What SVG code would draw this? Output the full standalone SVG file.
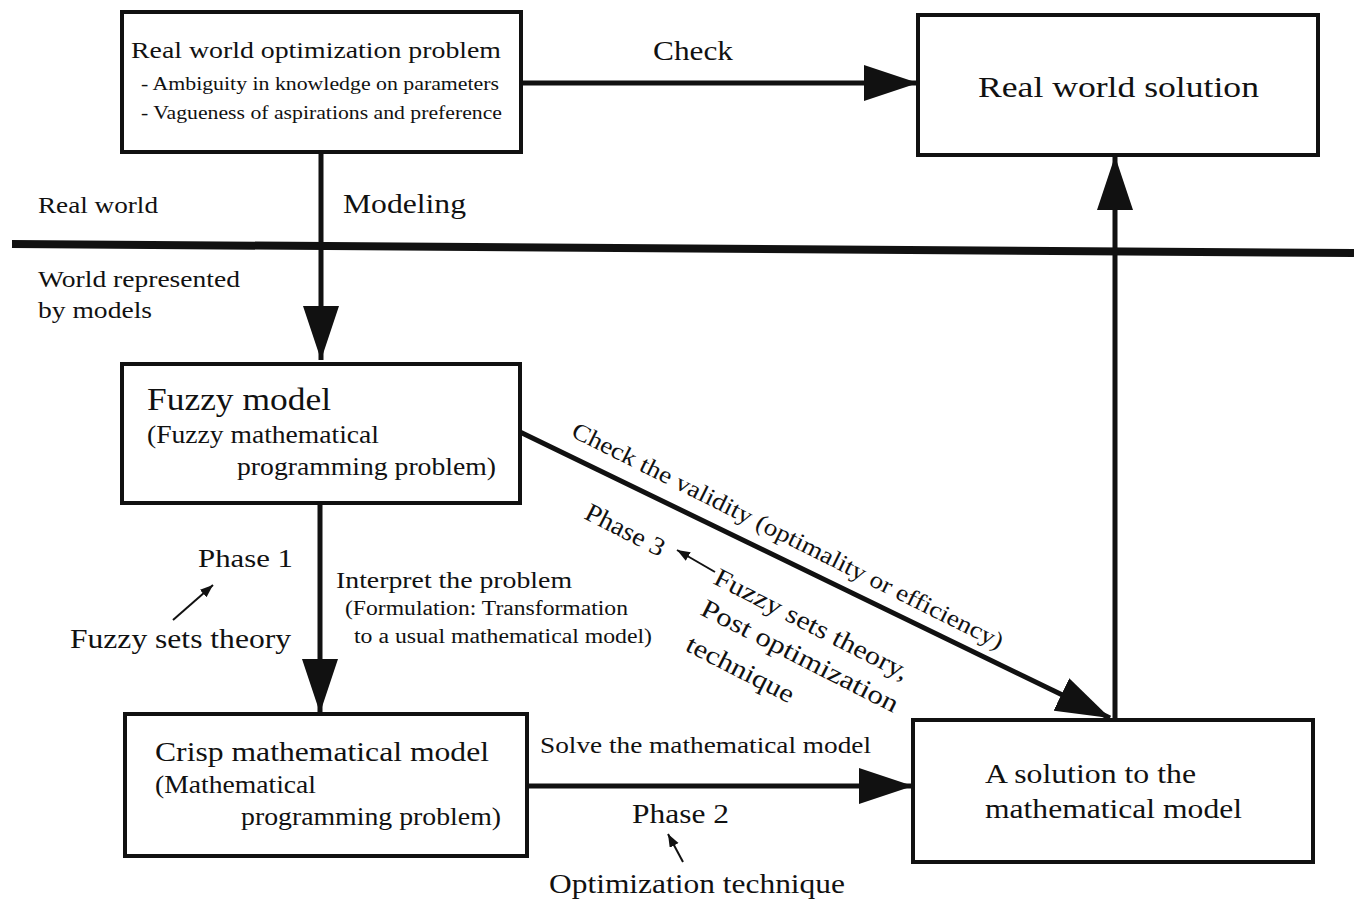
<svg xmlns="http://www.w3.org/2000/svg" width="1354" height="901" viewBox="0 0 1354 901">
<style>
text{fill:#111}
.box{fill:#fff;stroke:#111;stroke-width:4}
.con{stroke:#111;stroke-width:5;fill:none}
.thin{stroke:#111;stroke-width:2;fill:none}
</style>
<defs>
<marker id="big" markerUnits="userSpaceOnUse" markerWidth="56" markerHeight="36" refX="54" refY="18" orient="auto" viewBox="0 0 56 36">
<path d="M0,0 L54,18 L0,36 Z" fill="#111"/>
</marker>
<marker id="small" markerUnits="userSpaceOnUse" markerWidth="14" markerHeight="12" refX="13" refY="5" orient="auto" viewBox="0 0 14 12">
<path d="M0,0 L13,5 L0,10 Z" fill="#111"/>
</marker>
</defs>
<rect width="1354" height="901" fill="#fff"/>

<g id="connectors">
<line class="con" x1="521" y1="83" x2="918" y2="83" marker-end="url(#big)"/>
<line class="con" x1="321" y1="152" x2="321" y2="360" marker-end="url(#big)"/>
<line class="con" x1="320" y1="503" x2="320" y2="713" marker-end="url(#big)"/>
<line class="con" x1="527" y1="786" x2="913" y2="786" marker-end="url(#big)"/>
<line class="con" x1="1115" y1="720" x2="1115" y2="156" marker-end="url(#big)"/>
<line class="con" x1="520" y1="432" x2="1110" y2="718" marker-end="url(#big)"/>
<line class="thin" x1="173" y1="620" x2="213" y2="585" marker-end="url(#small)"/>
<line class="thin" x1="683" y1="862" x2="668" y2="834" marker-end="url(#small)"/>
<line class="thin" x1="715" y1="572" x2="677" y2="550" marker-end="url(#small)"/>
</g>

<g font-family="Liberation Serif, Times New Roman, serif">
<g id="divider">
<line x1="12" y1="244" x2="1354" y2="253" stroke="#111" stroke-width="8"/>
<text x="38" y="213" font-size="24" textLength="120" lengthAdjust="spacingAndGlyphs">Real world</text>
<text x="38" y="287" font-size="24" textLength="202" lengthAdjust="spacingAndGlyphs">World represented</text>
<text x="38" y="318" font-size="24" textLength="114" lengthAdjust="spacingAndGlyphs">by models</text>
</g>

<g id="real-problem">
<rect class="box" x="122" y="12" width="399" height="140"/>
<text x="131" y="58" font-size="24" textLength="370" lengthAdjust="spacingAndGlyphs">Real world optimization problem</text>
<text x="141" y="90" font-size="19" textLength="358" lengthAdjust="spacingAndGlyphs">- Ambiguity in knowledge on parameters</text>
<text x="141" y="119" font-size="19" textLength="361" lengthAdjust="spacingAndGlyphs">- Vagueness of aspirations and preference</text>
</g>

<g id="real-solution">
<rect class="box" x="918" y="15" width="400" height="140"/>
<text x="978" y="97" font-size="30" textLength="281" lengthAdjust="spacingAndGlyphs">Real world solution</text>
</g>

<g id="fuzzy-model">
<rect class="box" x="122" y="364" width="398" height="139"/>
<text x="147" y="410" font-size="32" textLength="184" lengthAdjust="spacingAndGlyphs">Fuzzy model</text>
<text x="147" y="443" font-size="25" textLength="232" lengthAdjust="spacingAndGlyphs">(Fuzzy mathematical</text>
<text x="237" y="475" font-size="25" textLength="259" lengthAdjust="spacingAndGlyphs">programming problem)</text>
</g>

<g id="crisp-model">
<rect class="box" x="125" y="714" width="402" height="142"/>
<text x="155" y="761" font-size="28" textLength="334" lengthAdjust="spacingAndGlyphs">Crisp mathematical model</text>
<text x="155" y="793" font-size="25" textLength="161" lengthAdjust="spacingAndGlyphs">(Mathematical</text>
<text x="241" y="825" font-size="25" textLength="260" lengthAdjust="spacingAndGlyphs">programming problem)</text>
</g>

<g id="math-solution">
<rect class="box" x="913" y="720" width="400" height="142"/>
<text x="985" y="783" font-size="27" textLength="211" lengthAdjust="spacingAndGlyphs">A solution to the</text>
<text x="985" y="818" font-size="27" textLength="257" lengthAdjust="spacingAndGlyphs">mathematical model</text>
</g>

<g id="labels">
<text x="653" y="60" font-size="28" textLength="80" lengthAdjust="spacingAndGlyphs">Check</text>
<text x="343" y="213" font-size="28" textLength="123" lengthAdjust="spacingAndGlyphs">Modeling</text>
<text x="198" y="567" font-size="26" textLength="95" lengthAdjust="spacingAndGlyphs">Phase 1</text>
<text x="70" y="648" font-size="28" textLength="221" lengthAdjust="spacingAndGlyphs">Fuzzy sets theory</text>
<text x="336" y="588" font-size="24" textLength="236" lengthAdjust="spacingAndGlyphs">Interpret the problem</text>
<text x="345" y="615" font-size="20" textLength="283" lengthAdjust="spacingAndGlyphs">(Formulation: Transformation</text>
<text x="354" y="643" font-size="20" textLength="298" lengthAdjust="spacingAndGlyphs">to a usual mathematical model)</text>
<text x="540" y="753" font-size="24" textLength="331" lengthAdjust="spacingAndGlyphs">Solve the mathematical model</text>
<text x="632" y="823" font-size="27" textLength="97" lengthAdjust="spacingAndGlyphs">Phase 2</text>
<text x="549" y="893" font-size="28" textLength="296" lengthAdjust="spacingAndGlyphs">Optimization technique</text>
<text transform="translate(570,436) rotate(26.5)" font-size="24" textLength="479" lengthAdjust="spacingAndGlyphs">Check the validity (optimality or efficiency)</text>
<text transform="translate(583,518) rotate(27)" font-size="26" textLength="86" lengthAdjust="spacingAndGlyphs">Phase 3</text>
<text transform="translate(712,583) rotate(27)" font-size="26" textLength="215" lengthAdjust="spacingAndGlyphs">Fuzzy sets theory,</text>
<text transform="translate(699,614) rotate(27)" font-size="26" textLength="218" lengthAdjust="spacingAndGlyphs">Post optimization</text>
<text transform="translate(684,650) rotate(27)" font-size="26" textLength="118" lengthAdjust="spacingAndGlyphs">technique</text>
</g>
</g>
</svg>
